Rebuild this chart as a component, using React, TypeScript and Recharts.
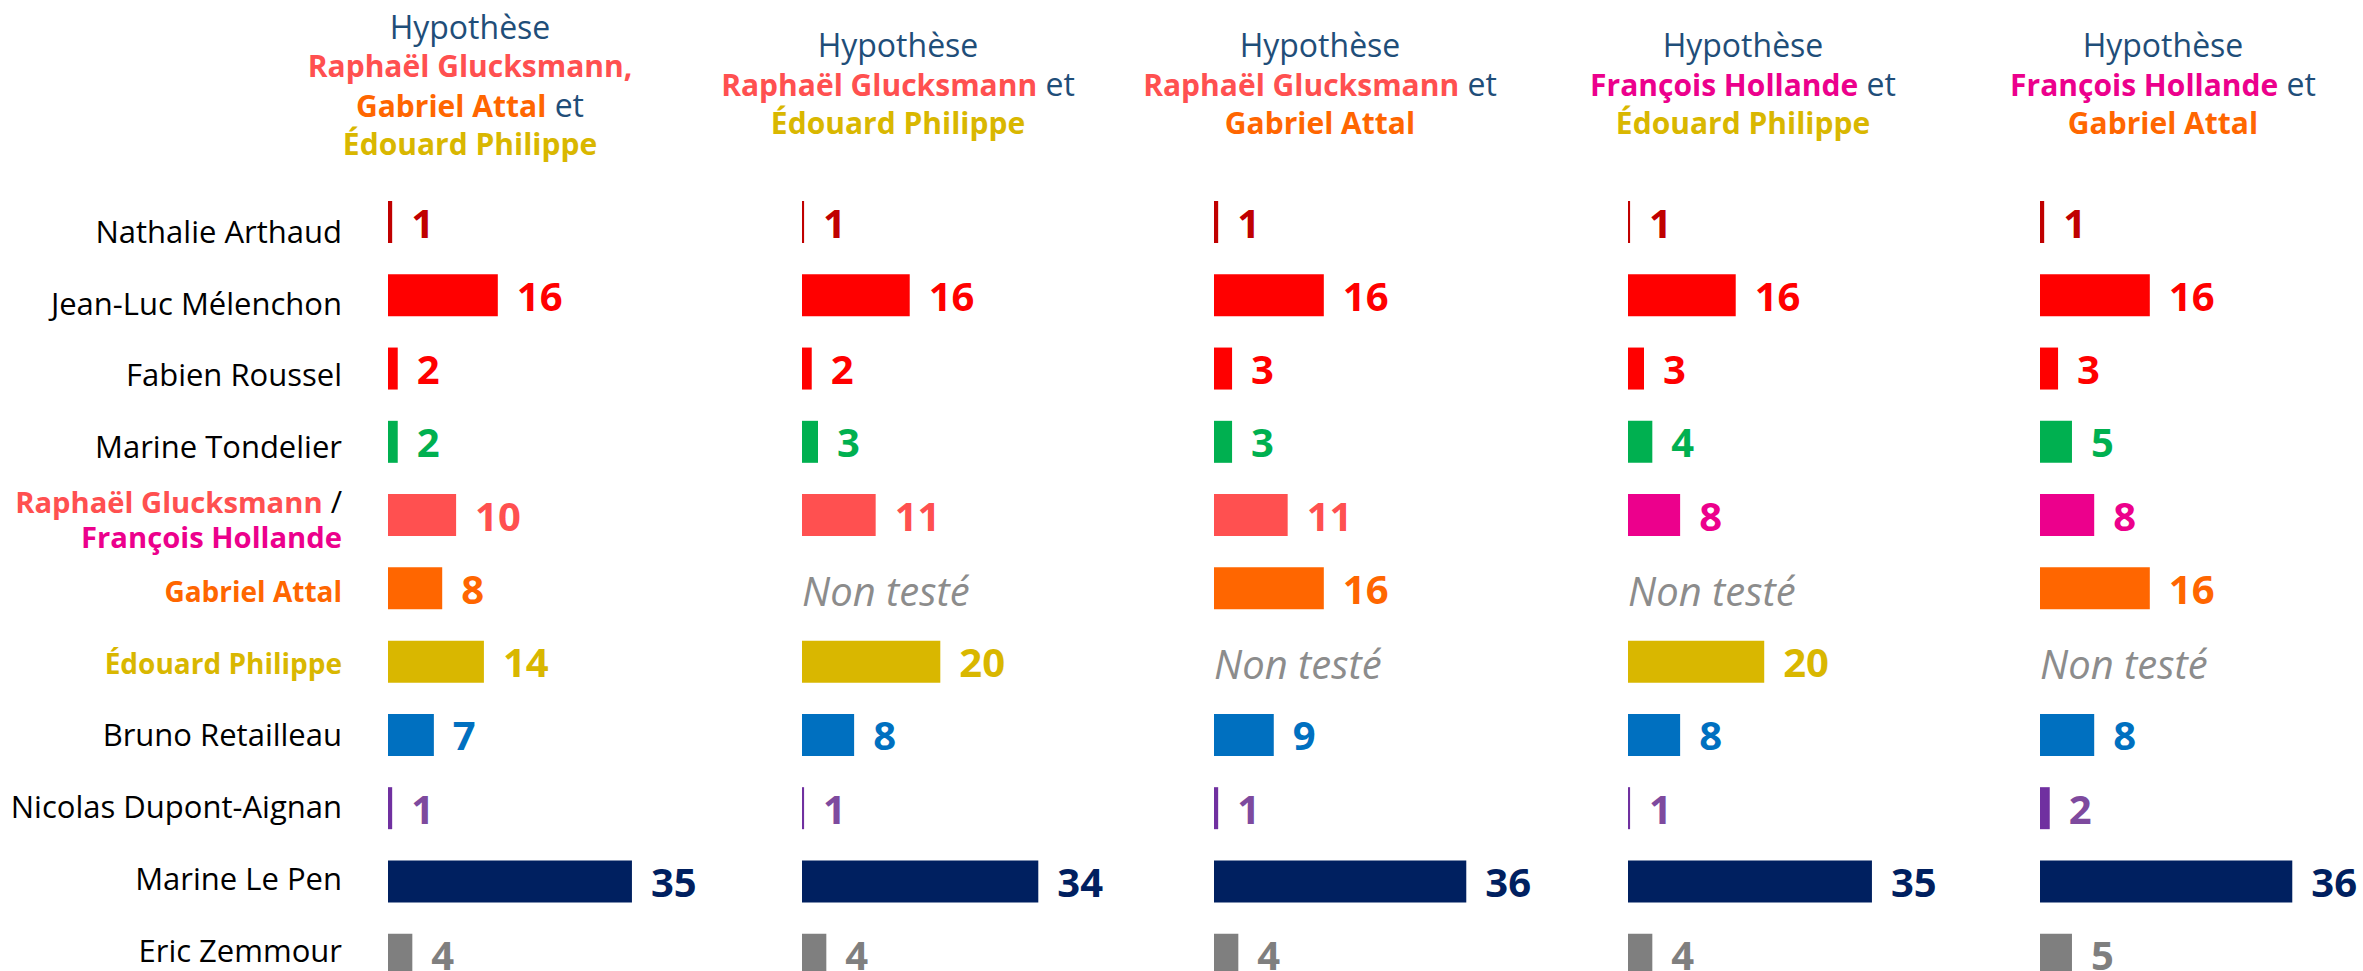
import React from 'react';
import { BarChart, Bar, XAxis, YAxis, Cell, LabelList, ReferenceLine } from 'recharts';

// ---------- data ----------
const candidates = [
  'Nathalie Arthaud',
  'Jean-Luc Mélenchon',
  'Fabien Roussel',
  'Marine Tondelier',
  'Raphaël Glucksmann / François Hollande',
  'Gabriel Attal',
  'Édouard Philippe',
  'Bruno Retailleau',
  'Nicolas Dupont-Aignan',
  'Marine Le Pen',
  'Eric Zemmour',
];

// bar lengths (null = not tested)
const h1Bars = [0.6, 15.8, 1.4, 1.4, 9.8, 7.8, 13.8, 6.6, 0.6, 35.1, 3.5];
const h2Bars = [0.3, 15.5, 1.4, 2.3, 10.6, null, 19.9, 7.5, 0.3, 34.0, 3.5];
const h3Bars = [0.6, 15.8, 2.6, 2.6, 10.6, 15.8, null, 8.6, 0.6, 36.3, 3.5];
const h4Bars = [0.3, 15.5, 2.3, 3.5, 7.5, null, 19.6, 7.5, 0.3, 35.1, 3.5];
const h5Bars = [0.6, 15.8, 2.6, 4.6, 7.8, 15.8, null, 7.8, 1.4, 36.3, 4.6];

// displayed (rounded) values
const h1Shown = [1, 16, 2, 2, 10, 8, 14, 7, 1, 35, 4];
const h2Shown = [1, 16, 2, 3, 11, null, 20, 8, 1, 34, 4];
const h3Shown = [1, 16, 3, 3, 11, 16, null, 9, 1, 36, 4];
const h4Shown = [1, 16, 3, 4, 8, null, 20, 8, 1, 35, 4];
const h5Shown = [1, 16, 3, 5, 8, 16, null, 8, 2, 36, 5];

const NOT_TESTED = 'Non testé';

// ---------- colours ----------
const BLUE_TITLE = '#1F4E79';
const C_RG = '#FF5050';
const C_FH = '#EC008C';
const C_GA = '#FF6600';
const C_EP = '#D9B700';

const barColorsRG = ['#C00000', '#FF0000', '#FF0000', '#00B050', C_RG, C_GA, C_EP, '#0070C0', '#7030A0', '#002060', '#7F7F7F'];
const barColorsFH = ['#C00000', '#FF0000', '#FF0000', '#00B050', C_FH, C_GA, C_EP, '#0070C0', '#7030A0', '#002060', '#7F7F7F'];
const labelColorsRG = ['#C00000', '#FF0000', '#FF0000', '#00B050', C_RG, C_GA, C_EP, '#0070C0', '#7E4A9E', '#002060', '#7F7F7F'];
const labelColorsFH = ['#C00000', '#FF0000', '#FF0000', '#00B050', C_FH, C_GA, C_EP, '#0070C0', '#7E4A9E', '#002060', '#7F7F7F'];

const FONT = '"Open Sans", "DejaVu Sans", sans-serif';

type Seg = { t: string; c: string; b?: boolean };

const headers: Seg[][][] = [
  [
    [{ t: 'Hypothèse', c: BLUE_TITLE }],
    [{ t: 'Raphaël Glucksmann,', c: C_RG, b: true }],
    [{ t: 'Gabriel Attal', c: C_GA, b: true }, { t: ' et', c: BLUE_TITLE }],
    [{ t: 'Édouard Philippe', c: C_EP, b: true }],
  ],
  [
    [{ t: 'Hypothèse', c: BLUE_TITLE }],
    [{ t: 'Raphaël Glucksmann', c: C_RG, b: true }, { t: ' et', c: BLUE_TITLE }],
    [{ t: 'Édouard Philippe', c: C_EP, b: true }],
  ],
  [
    [{ t: 'Hypothèse', c: BLUE_TITLE }],
    [{ t: 'Raphaël Glucksmann', c: C_RG, b: true }, { t: ' et', c: BLUE_TITLE }],
    [{ t: 'Gabriel Attal', c: C_GA, b: true }],
  ],
  [
    [{ t: 'Hypothèse', c: BLUE_TITLE }],
    [{ t: 'François Hollande', c: C_FH, b: true }, { t: ' et', c: BLUE_TITLE }],
    [{ t: 'Édouard Philippe', c: C_EP, b: true }],
  ],
  [
    [{ t: 'Hypothèse', c: BLUE_TITLE }],
    [{ t: 'François Hollande', c: C_FH, b: true }, { t: ' et', c: BLUE_TITLE }],
    [{ t: 'Gabriel Attal', c: C_GA, b: true }],
  ],
];

const panels = [
  { bars: h1Bars, shown: h1Shown, barColors: barColorsRG, labelColors: labelColorsRG },
  { bars: h2Bars, shown: h2Shown, barColors: barColorsRG, labelColors: labelColorsRG },
  { bars: h3Bars, shown: h3Shown, barColors: barColorsRG, labelColors: labelColorsRG },
  { bars: h4Bars, shown: h4Shown, barColors: barColorsFH, labelColors: labelColorsFH },
  { bars: h5Bars, shown: h5Shown, barColors: barColorsFH, labelColors: labelColorsFH },
];

// ---------- layout ----------
const W = 2363;
const H = 971;
const CHART_H = 1000;
const MARGIN_TOP = 185;
const MARGIN_BOTTOM = 9;
const PLOT_W = 347.5;
const X_MAX = 50;
const AXIS_W = 388;
const panelLefts = [388, 802, 1214, 1628, 2040];
const headerCenters = [470, 898, 1320, 1743, 2163];
const headerTops = [7, 25, 25, 25, 25];
// category labels sit slightly lower than bars at the top, drifting up towards the bottom
const LABEL_DY = 21;
const LABEL_DRIFT = 1.37;

const catStyle: Record<string, { color: string; bold: boolean }> = {
  'Gabriel Attal': { color: C_GA, bold: true },
  'Édouard Philippe': { color: C_EP, bold: true },
};

const CAT_FS = 31;
const CAT_FS_BOLD = 28;

function CandidateTick(props: any) {
  const { x, y, payload } = props;
  const name: string = payload.value;
  const i = candidates.indexOf(name);
  const base = y + LABEL_DY - Math.max(0, i) * LABEL_DRIFT;
  if (name === candidates[4]) {
    return (
      <text textAnchor="end" fontFamily={FONT} fontSize={29.2}>
        <tspan x={x} y={base - 17.5}>
          <tspan fill={C_RG} fontWeight={700}>Raphaël Glucksmann</tspan>
          <tspan fill="#000" fontSize={CAT_FS}> /</tspan>
        </tspan>
        <tspan x={x} y={base + 17.5} fill={C_FH} fontWeight={700}>
          François Hollande
        </tspan>
      </text>
    );
  }
  const st = catStyle[name];
  return (
    <text
      x={x}
      y={base}
      textAnchor="end"
      fontFamily={FONT}
      fontSize={st && st.bold ? CAT_FS_BOLD : CAT_FS}
      fill={st ? st.color : '#000'}
      fontWeight={st && st.bold ? 700 : 400}
    >
      {name}
    </text>
  );
}

function makeValueLabel(p: (typeof panels)[number]) {
  return (props: any) => {
    const vb = props.viewBox || props;
    const x = Number(vb.x);
    const y = Number(vb.y);
    const w = Number(vb.width) || 0;
    const h = Number(vb.height);
    const cy = y + h / 2;
    const name = props.value as string;
    const i = candidates.indexOf(name);
    if (i < 0) return null;
    const v = p.shown[i];
    if (v === null || v === undefined) return null;
    return (
      <text x={x + w + 19} y={cy + 15.5} fontFamily={FONT} fontWeight={700} fontSize={40} fill={p.labelColors[i]}>
        {v}
      </text>
    );
  };
}

function NotTestedLabel(props: any) {
  const vb = props.viewBox || {};
  const x = Number(vb.x);
  const y = Number(vb.y) + (Number(vb.height) || 0) / 2;
  if (!isFinite(x) || !isFinite(y)) return null;
  return (
    <text x={x} y={y + 18} fontFamily={FONT} fontStyle="italic" fontSize={40} fill="#8C8C8C">
      {NOT_TESTED}
    </text>
  );
}

function Panel({ idx }: { idx: number }) {
  const p = panels[idx];
  const data = candidates.map((name, i) => ({ name, value: p.bars[i] }));
  const untested = candidates.filter((_, i) => p.shown[i] === null);
  const first = idx === 0;
  const width = (first ? AXIS_W : 0) + PLOT_W;
  const left = first ? 0 : panelLefts[idx];
  return (
    <div style={{ position: 'absolute', left, top: 0 }}>
      <BarChart
        width={width}
        height={CHART_H}
        data={data}
        layout="vertical"
        margin={{ top: MARGIN_TOP, bottom: MARGIN_BOTTOM, left: 0, right: 0 }}
        barCategoryGap={0}
      >
        <XAxis type="number" domain={[0, X_MAX]} hide allowDataOverflow />
        {first ? (
          <YAxis
            type="category"
            dataKey="name"
            width={AXIS_W}
            axisLine={false}
            tickLine={false}
            tickSize={0}
            tickMargin={46}
            interval={0}
            tick={<CandidateTick />}
          />
        ) : (
          <YAxis type="category" dataKey="name" hide />
        )}
        <Bar dataKey="value" barSize={42} isAnimationActive={false}>
          {data.map((d, i) => (
            <Cell key={i} fill={p.barColors[i]} />
          ))}
          <LabelList dataKey="name" content={makeValueLabel(p)} />
        </Bar>
        {untested.map((name) => (
          <ReferenceLine
            key={name}
            y={name}
            stroke="none"
            strokeWidth={0}
            label={<NotTestedLabel />}
          />
        ))}
      </BarChart>
    </div>
  );
}

function Header({ idx }: { idx: number }) {
  const lines = headers[idx];
  return (
    <div
      style={{
        position: 'absolute',
        left: headerCenters[idx] - 250,
        top: headerTops[idx],
        width: 500,
        textAlign: 'center',
        fontFamily: FONT,
        fontSize: 30,
        lineHeight: '39px',
        whiteSpace: 'nowrap',
      }}
    >
      {lines.map((line, li) => (
        <div key={li} style={{ height: 39 }}>
          {line.map((s, si) => (
            <span key={si} style={{ color: s.c, fontWeight: s.b ? 700 : 400, fontSize: s.b ? 30 : 32 }}>
              {s.t}
            </span>
          ))}
        </div>
      ))}
    </div>
  );
}

export default function App() {
  return (
    <div
      style={{
        position: 'absolute',
        left: 0,
        top: 0,
        width: W,
        height: H,
        overflow: 'hidden',
        background: '#fff',
      }}
    >
      {panels.map((_, i) => (
        <Header key={'h' + i} idx={i} />
      ))}
      {panels.map((_, i) => (
        <Panel key={'p' + i} idx={i} />
      ))}
    </div>
  );
}
